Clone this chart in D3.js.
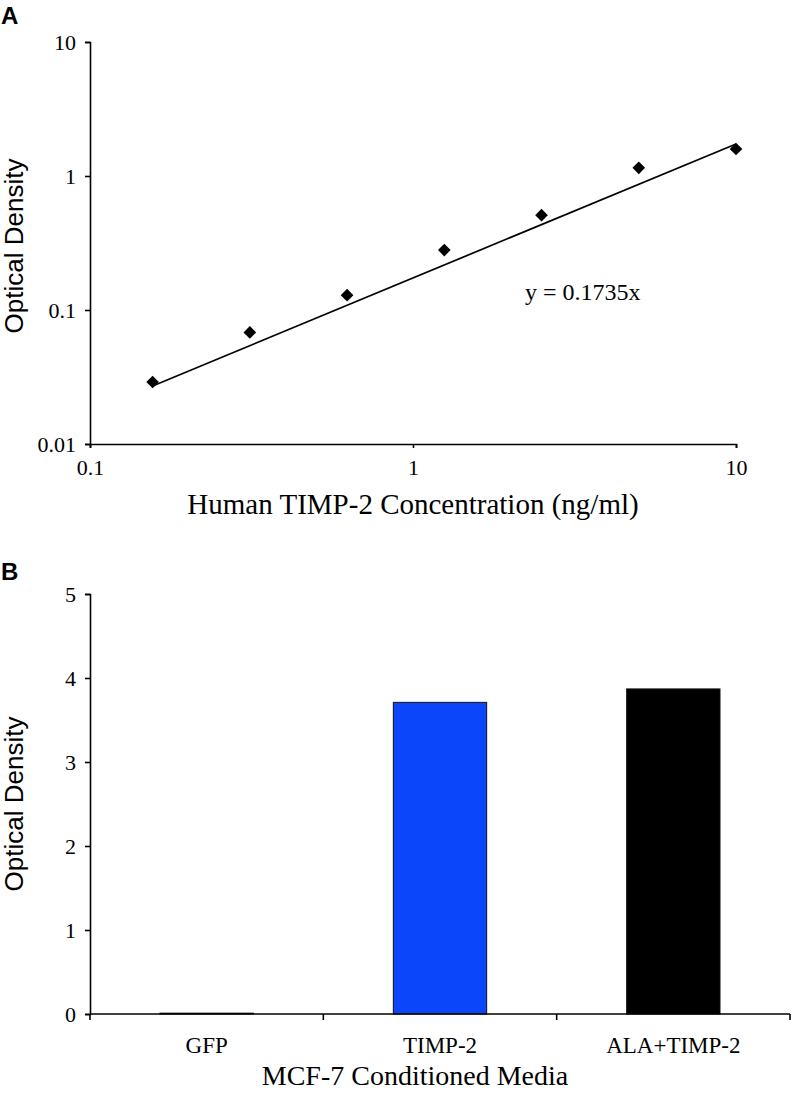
<!DOCTYPE html>
<html>
<head>
<meta charset="utf-8">
<script src="https://cdn.jsdelivr.net/npm/d3@7"></script>
<style>
  body { margin: 0; background: #fff; }
  svg { display: block; }
</style>
</head>
<body>
<svg id="chart" width="793" height="1093"></svg>
<script>
// panel A: standard curve
const concentrations = [0.15625, 0.3125, 0.625, 1.25, 2.5, 5, 10];
const densities = [0.029, 0.068, 0.129, 0.28, 0.51, 1.15, 1.59];
const slope = 0.1735;
const logTicksY = [0.01, 0.1, 1, 10];
const logTicksX = [0.1, 1, 10];

// panel B: conditioned media
const media = ["GFP", "TIMP-2", "ALA+TIMP-2"];
const mediaOD = [0.01, 3.71, 3.87];
const mediaColors = ["#000000", "#0b46fb", "#000000"];
const barTicks = [0, 1, 2, 3, 4, 5];

const svg = d3.select("#chart");
const serif = '"Liberation Serif", serif';
const sans = '"Liberation Sans", Arial, sans-serif';

function styleAxis(g) {
  g.selectAll("path, line").attr("stroke", "#000").attr("stroke-width", 1.6);
  g.selectAll("text").attr("fill", "#000")
    .style("font-family", serif).style("font-size", "22px");
}

// ---- A ----
const xA = d3.scaleLog().domain([0.1, 10]).range([90, 736]);
const yA = d3.scaleLog().domain([0.01, 10]).range([444, 42]);

svg.append("text").attr("x", 1).attr("y", 24)
  .style("font-family", sans).style("font-weight", "bold").style("font-size", "24px")
  .text("A");

svg.append("g")
  .attr("transform", "translate(90,0)")
  .call(d3.axisLeft(yA).tickValues(logTicksY).tickFormat(d => String(d)).tickSize(5).tickPadding(9))
  .call(styleAxis);

svg.append("g")
  .attr("transform", "translate(0,444)")
  .call(d3.axisBottom(xA).tickValues(logTicksX).tickFormat(d => String(d)).tickSize(4).tickPadding(11))
  .call(styleAxis);

const x0 = concentrations[0], x1 = concentrations[concentrations.length - 1];
svg.append("line")
  .attr("x1", xA(x0)).attr("y1", yA(slope * x0))
  .attr("x2", xA(x1)).attr("y2", yA(slope * x1))
  .attr("stroke", "#000").attr("stroke-width", 1.7);

svg.append("g").selectAll("path")
  .data(concentrations)
  .join("path")
  .attr("d", d3.symbol(d3.symbolSquare, 80))
  .attr("transform", (d, i) => `translate(${xA(d)},${yA(densities[i])}) rotate(45)`)
  .attr("fill", "#000");

svg.append("text").attr("x", 525).attr("y", 300)
  .style("font-family", serif).style("font-size", "24px")
  .text("y = 0.1735x");

svg.append("text").attr("x", 413).attr("y", 514).attr("text-anchor", "middle")
  .style("font-family", serif).style("font-size", "29px")
  .text("Human TIMP-2 Concentration (ng/ml)");

svg.append("text").attr("transform", "translate(23,246) rotate(-90)").attr("text-anchor", "middle")
  .style("font-family", sans).style("font-size", "26px")
  .text("Optical Density");

// ---- B ----
const xB = d3.scaleBand().domain(media).range([90, 790]).paddingInner(0.6).paddingOuter(0.3);
const yB = d3.scaleLinear().domain([0, 5]).range([1014, 594]);

svg.append("text").attr("x", 1).attr("y", 580)
  .style("font-family", sans).style("font-weight", "bold").style("font-size", "24px")
  .text("B");

svg.append("g")
  .attr("transform", "translate(90,0)")
  .call(d3.axisLeft(yB).tickValues(barTicks).tickFormat(d3.format("d")).tickSize(5).tickPadding(9))
  .call(styleAxis);

svg.selectAll("rect.bar")
  .data(media)
  .join("rect")
  .attr("class", "bar")
  .attr("x", d => xB(d))
  .attr("width", xB.bandwidth())
  .attr("y", (d, i) => yB(mediaOD[i]))
  .attr("height", (d, i) => yB(0) - yB(mediaOD[i]))
  .attr("fill", (d, i) => mediaColors[i])
  .attr("stroke", "#111").attr("stroke-width", 1);

// category boundary ticks
const xAxisB = svg.append("g").attr("transform", "translate(0,1014)");
xAxisB.append("line").attr("x1", 90).attr("x2", 790).attr("stroke", "#000").attr("stroke-width", 1.6);
xAxisB.selectAll("line.tk")
  .data(d3.range(media.length + 1))
  .join("line").attr("class", "tk")
  .attr("x1", i => 90 + i * xB.step()).attr("x2", i => 90 + i * xB.step())
  .attr("y1", 0).attr("y2", 6)
  .attr("stroke", "#000").attr("stroke-width", 1.6);
xAxisB.selectAll("text")
  .data(media)
  .join("text")
  .attr("x", d => xB(d) + xB.bandwidth() / 2)
  .attr("y", 39)
  .attr("text-anchor", "middle")
  .style("font-family", serif).style("font-size", "23px")
  .text(d => d);

svg.append("text").attr("x", 415).attr("y", 1085).attr("text-anchor", "middle")
  .style("font-family", serif).style("font-size", "28px")
  .text("MCF-7 Conditioned Media");

svg.append("text").attr("transform", "translate(23,804) rotate(-90)").attr("text-anchor", "middle")
  .style("font-family", sans).style("font-size", "26px")
  .text("Optical Density");
</script>
</body>
</html>
